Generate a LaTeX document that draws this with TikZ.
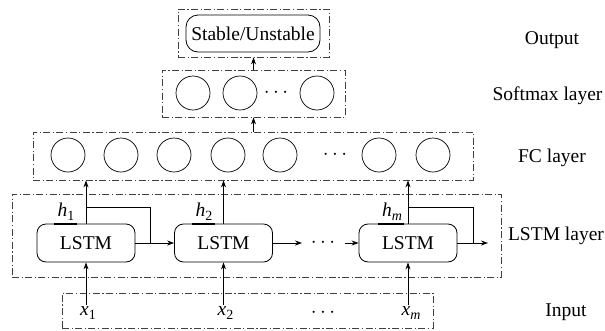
\documentclass[tikz,border=0pt]{standalone}
\usepackage{fontspec}
\setmainfont{Liberation Serif}
\usetikzlibrary{arrows.meta}
\newcommand\lab[2]{\textit{#1}\raisebox{-0.45ex}{\fontsize{14}{14}\selectfont #2}}
\tikzset{
  layerbox/.style={draw=black!75, line width=0.8pt, dash pattern=on 7pt off 2.5pt on 1.2pt off 2.5pt, inner sep=0pt},
  neuron/.style={draw, circle, line width=0.7pt, minimum size=34pt, inner sep=0pt},
  cell/.style={draw, rounded corners=9pt, line width=0.8pt, minimum width=98pt, minimum height=38pt, inner sep=0pt},
  arr/.style={line width=0.8pt, -{Stealth[length=7pt,width=5pt]}},
  con/.style={line width=0.8pt},
  hbar/.style={line width=2pt},
  side/.style={inner sep=0pt},
  dotsl/.style={inner sep=0pt},
}
\begin{document}
\begin{tikzpicture}[x=1pt,y=-1pt,font=\fontsize{19.5}{23}\selectfont]
\useasboundingbox (0,0) rectangle (605,330);
% layer boxes
\node[layerbox, minimum width=151pt, minimum height=48pt] (outbox) at (253.5,33) {};
\node[layerbox, minimum width=183pt, minimum height=47pt] (smbox) at (253.5,93.5) {};
\node[layerbox, minimum width=440pt, minimum height=48pt] (fcbox) at (253,156) {};
\node[layerbox, minimum width=489pt, minimum height=83pt] (lstmbox) at (256.5,235.5) {};
\node[layerbox, minimum width=371pt, minimum height=35pt] (inbox) at (247.5,310.5) {};
% output
\node[draw, rounded corners=12pt, line width=0.8pt, minimum width=134pt, minimum height=37pt, inner sep=0pt] (res) at (253,33.5) {Stable/Unstable};
% softmax neurons
\node[neuron] (s1) at (193,93) {};
\node[neuron] (s2) at (240,93) {};
\node[dotsl] (sdots) at (276,93) {$\cdots$};
\node[neuron] (s3) at (317,93) {};
% fc neurons
\foreach \i/\x in {1/68,2/121,3/174,4/228,5/280,6/379,7/433}
  \node[neuron] (f\i) at (\x,155) {};
\node[dotsl] (fdots) at (335,155) {$\cdots$};
% lstm cells
\node[cell] (l1) at (86,243) {LSTM};
\node[cell] (l2) at (223.5,243) {LSTM};
\node[cell] (l3) at (408,243) {LSTM};
\node[dotsl] (ldots) at (323,243) {$\cdots$};
\coordinate (c2) at (302,243);
\coordinate (c3) at (345,243);
\coordinate (cend) at (488,243);
\coordinate (fb1) at (150,207);
\coordinate (fb3) at (473,207);
% h labels
\node (h1) at (66,212) {\lab{h}{1}};
\node (h2) at (204,212) {\lab{h}{2}};
\node (hm) at (392,212) {\lab{h}{\textit{m}}};
\draw[hbar] (54,224) -- (77,224);
\draw[hbar] (192,224) -- (215,224);
\draw[hbar] (378,224) -- (404,224);
% inputs
\node[inner sep=1pt] (x1) at (88,313) {\lab{x}{1}};
\node[inner sep=1pt] (x2) at (225.5,313) {\lab{x}{2}};
\node[dotsl] (idots) at (323,313) {$\cdots$};
\node[inner sep=1pt] (xm) at (411,313) {\lab{x}{\textit{m}}};
% connectors
\draw[arr] (smbox.north) -- (outbox.south);
\draw[arr] (fcbox.north -| smbox.south) -- (smbox.south);
\draw[arr] (l1.north) -- (l1.north |- fcbox.south);
\draw[arr] (l2.north) -- (l2.north |- fcbox.south);
\draw[arr] (l3.north) -- (l3.north |- fcbox.south);
\draw[arr] (l1.east) -- (l2.west);
\draw[con] (l1.north |- fb1) -| (fb1 |- l1.east);
\draw[arr] (l2.east) -- (c2);
\draw[arr] (c3) -- (l3.west);
\draw[arr] (l3.east) -- (cend);
\draw[con] (l3.north |- fb3) -| (fb3 |- l3.east);
\draw[arr] (x1.north -| l1.south) -- (l1.south);
\draw[arr] (x2.north -| l2.south) -- (l2.south);
\draw[arr] (xm.north -| l3.south) -- (l3.south);
% side labels
\node[side] (tout) at (552,40) {Output};
\node[side] (tsm) at (547.5,96) {Softmax layer};
\node[side] (tfc) at (552,158) {FC layer};
\node[side] (tlstm) at (556,236) {LSTM layer};
\node[side] (tin) at (566,312) {Input};
\end{tikzpicture}
\end{document}
